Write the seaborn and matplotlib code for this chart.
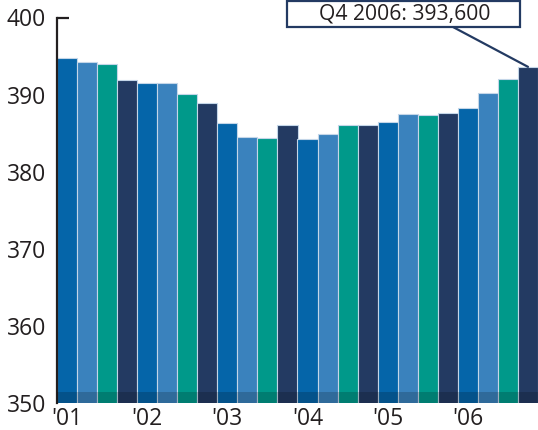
import matplotlib
matplotlib.use("Agg")
import matplotlib.pyplot as plt
from matplotlib.patches import Rectangle
import seaborn as sns
import pandas as pd

# Quarterly series, Q1 2001 .. Q4 2006 (thousands)
quarters = [f"Q{q} {y}" for y in range(2001, 2007) for q in range(1, 5)]
values = [394.8, 394.2, 394.0, 391.9, 391.5, 391.5, 390.1, 388.9,
          386.3, 384.5, 384.4, 386.0, 384.2, 384.9, 386.0, 386.0,
          386.4, 387.5, 387.4, 387.6, 388.3, 390.2, 392.0, 393.6]
year_labels = ["'01", "'02", "'03", "'04", "'05", "'06"]
y_ticks = [350, 360, 370, 380, 390, 400]
callout = "Q4 2006: 393,600"

quarter_colors = ["#0565a9", "#3a82bd", "#00998a", "#233a62"]
ink = "#231f20"
navy = "#233a62"

sns.set_theme(style="white")
plt.rcParams["font.family"] = ["Open Sans", "DejaVu Sans"]

df = pd.DataFrame({"quarter": quarters, "value": values})
palette = {q: quarter_colors[i % 4] for i, q in enumerate(quarters)}

fig = plt.figure(figsize=(5.38, 4.30), dpi=100)
ax = fig.add_axes([57 / 538, 27 / 430, 481 / 538, 385.5 / 430])

sns.barplot(data=df, x="quarter", y="value", hue="quarter", palette=palette,
            order=quarters, hue_order=quarters, width=1.0, legend=False,
            edgecolor="#c4d6e8", linewidth=0.8, saturation=1.0, ax=ax)

ax.set_ylim(350, 400)
ax.set_xlim(-0.5, len(quarters) - 0.5)

# subtle shading along the baseline
ax.axhspan(350, 351.4, color="black", alpha=0.18, lw=0, zorder=5)

ax.set_yticks(y_ticks)
ax.set_yticklabels([str(t) for t in y_ticks], fontsize=16.5, color=ink)
ax.set_xticks(range(0, len(quarters), 4))
ax.set_xticklabels(year_labels, fontsize=16.5, color=ink)
ax.tick_params(axis="y", length=0, pad=8)
ax.tick_params(axis="x", length=0, pad=3)

# short inward tick marking the top of the scale
ax.yaxis.remove_overlapping_locs = False
ax.set_yticks([400], minor=True)
ax.tick_params(axis="y", which="minor", direction="in", length=8.5,
               width=1.6, color=ink, left=True)
ax.set_xlabel("")
ax.set_ylabel("")

for side in ["top", "right", "bottom"]:
    ax.spines[side].set_visible(False)
ax.spines["left"].set_color(ink)
ax.spines["left"].set_linewidth(1.6)

# callout box with leader line to the last bar
box = Rectangle((287 / 538, 403 / 430), 233 / 538, 26 / 430,
                transform=fig.transFigure, facecolor="white",
                edgecolor=navy, linewidth=1.6, zorder=10)
fig.patches.append(box)
fig.text(405 / 538, 416 / 430, callout, ha="center", va="center",
         fontsize=15.2, color=ink, zorder=11)
ax.annotate("", xy=(len(quarters) - 1, values[-1]), xycoords="data",
            xytext=(453 / 538, 403 / 430), textcoords="figure fraction",
            arrowprops=dict(arrowstyle="-", color=navy, lw=1.6,
                            shrinkA=0, shrinkB=0),
            annotation_clip=False)

fig.savefig("out.png", dpi=100)
